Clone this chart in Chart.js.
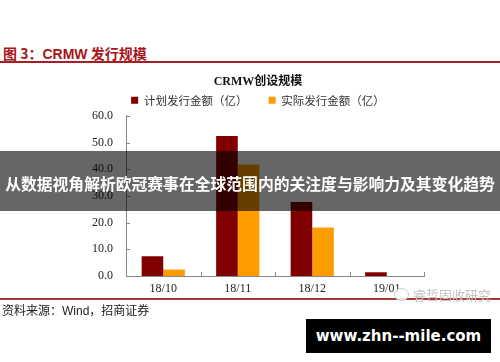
<!DOCTYPE html>
<html>
<head>
<meta charset="utf-8">
<script src="https://cdn.jsdelivr.net/npm/chart.js@4/dist/chart.umd.min.js"></script>
<style>
  html, body { margin: 0; padding: 0; background: #fff; }
  body { width: 500px; height: 362px; position: relative; overflow: hidden; font-family: "Noto Sans CJK SC", sans-serif; }
  #head { position: absolute; left: 3px; top: 43px; font-size: 14px; font-weight: bold; color: #a8141a; white-space: nowrap; }
  #head .en { font-family: "Liberation Sans", Arial, sans-serif; }
  #headLine { position: absolute; left: 0; top: 61px; width: 500px; height: 2px; background: #a52025; }
  #wrap { position: absolute; left: 0; top: 70px; width: 500px; height: 230px; }
  #footLine { position: absolute; left: 0; top: 298px; width: 500px; height: 2px; background: #a8383a; }
  #source { position: absolute; left: 2px; top: 301px; font-size: 12px; color: #222; white-space: nowrap; }
  #source .en { font-family: "Liberation Sans", Arial, sans-serif; }
  #mark { position: absolute; left: 394px; top: 285px; font-size: 13px; color: #c4c4c4; white-space: nowrap; }
  #mark .icon { display: inline-block; width: 13px; height: 11px; border: 1px solid #cfcfcf; border-radius: 50%; vertical-align: -1px; margin-right: 4px; background: rgba(255,255,255,0.85); }
  #banner { position: absolute; left: 0; top: 151px; width: 500px; height: 60px; background: rgba(0,0,0,0.6); color: #fff; font-weight: bold; font-size: 15.8px; text-align: center; white-space: nowrap; line-height: 66px; z-index: 5; }
  #site { position: absolute; left: 306px; top: 319px; width: 185px; height: 34px; background: #000; color: #fff; font-family: "DejaVu Sans", sans-serif; font-weight: bold; font-size: 15px; line-height: 34px; text-align: center; }
</style>
</head>
<body>
<div id="head">图 3：<span class="en">CRMW</span> 发行规模</div>
<div id="headLine"></div>
<div id="wrap"><canvas id="myChart" width="500" height="230"></canvas></div>
<div id="footLine"></div>
<div id="source">资料来源：<span class="en">Wind</span>，招商证券</div>
<div id="mark"><span class="icon"></span>睿哲固收研究</div>
<div id="banner">从数据视角解析欧冠赛事在全球范围内的关注度与影响力及其变化趋势</div>
<div id="site">www.zhn--mile.com</div>

<script>
// data
var months = ["18/10", "18/11", "18/12", "19/01"];
var planned = [7.4, 52.5, 27.7, 1.4];
var actual = [2.4, 41.8, 18.2, 0];
var yTicks = [0, 10, 20, 30, 40, 50, 60];

var serif = "'Liberation Serif', 'Times New Roman', serif";

// small inward ticks on both axes
var innerTicks = {
    id: "innerTicks",
    afterDraw: function(chart) {
        var ctx = chart.ctx;
        var x = chart.scales.x, y = chart.scales.y;
        ctx.save();
        ctx.strokeStyle = "#888";
        ctx.lineWidth = 1;
        ctx.beginPath();
        yTicks.forEach(function(v) {
            var py = Math.round(y.getPixelForValue(v)) + 0.5;
            ctx.moveTo(x.left, py);
            ctx.lineTo(x.left + 4, py);
        });
        var step = x.getPixelForValue(1) - x.getPixelForValue(0);
        for (var i = 0; i < months.length; i++) {
            var px = Math.round(x.getPixelForValue(i) + step / 2) + 0.5;
            ctx.moveTo(px, y.bottom);
            ctx.lineTo(px, y.bottom - 4);
        }
        ctx.stroke();
        ctx.restore();
    }
};

var ctx = document.getElementById("myChart").getContext("2d");
var myChart = new Chart(ctx, {
    type: "bar",
    data: {
        labels: months,
        datasets: [{
            label: "计划发行金额（亿）",
            data: planned,
            backgroundColor: "#800000",
            borderWidth: 0
        }, {
            label: "实际发行金额（亿）",
            data: actual,
            backgroundColor: "#ff9c00",
            borderWidth: 0
        }]
    },
    options: {
        responsive: false,
        animation: false,
        categoryPercentage: 0.58,
        barPercentage: 1.0,
        layout: { padding: { left: 76, right: 60, top: 2, bottom: 0 } },
        plugins: {
            title: {
                display: true,
                text: "CRMW创设规模",
                color: "#111",
                font: { family: serif + ", 'Noto Sans CJK SC'", size: 12, weight: "bold" },
                padding: { top: 3, bottom: 1 }
            },
            legend: {
                display: true,
                labels: {
                    color: "#333",
                    font: { family: "'Noto Sans CJK SC', sans-serif", size: 11.5 },
                    boxWidth: 7,
                    boxHeight: 7,
                    padding: 4,
                    // wider gap between the two entries than padding alone gives
                    generateLabels: function(chart) {
                        var items = Chart.defaults.plugins.legend.labels.generateLabels(chart);
                        items[0].text = items[0].text + "\u2003\u2002";
                        return items;
                    }
                }
            },
            tooltip: { enabled: false }
        },
        scales: {
            x: {
                afterFit: function(s) { s.height = 24; },
                grid: { display: false, drawTicks: false },
                border: { display: true, color: "#888" },
                ticks: { color: "#222", font: { family: serif, size: 12 }, padding: 6 }
            },
            y: {
                min: 0,
                max: 60,
                afterFit: function(s) { s.width = 50; },
                afterBuildTicks: function(s) { s.ticks = yTicks.map(function(v) { return { value: v }; }); },
                grid: { display: false, drawTicks: false },
                border: { display: true, color: "#888" },
                ticks: {
                    color: "#222",
                    font: { family: serif, size: 12 },
                    padding: 13,
                    callback: function(v) { return v.toFixed(1); }
                }
            },
            // empty strip on the right so the plot ends where the original does
            yPad: {
                position: "right",
                display: true,
                afterFit: function(s) { s.width = 16; },
                grid: { display: false, drawTicks: false },
                border: { display: false },
                ticks: { display: false }
            }
        }
    },
    plugins: [innerTicks]
});
</script>
</body>
</html>
